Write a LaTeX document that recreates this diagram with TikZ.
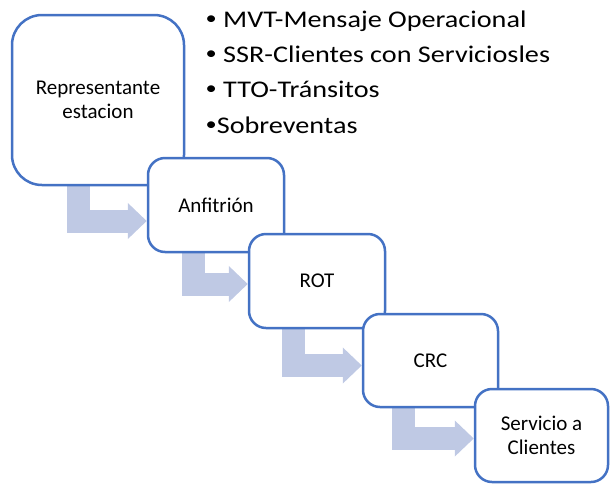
\documentclass[tikz,border=0pt]{standalone}
\usepackage{fontspec}
\setmainfont{Carlito}
\newfontfamily\listfont{Carlito}[FakeStretch = 1.18]
\usetikzlibrary{arrows.meta}
\usetikzlibrary{backgrounds}
\definecolor{boxBlue}{RGB}{68,114,196}
\definecolor{flowBlue}{RGB}{191,201,228}
\newcommand{\listDot}{{\fontsize{19}{19}\selectfont\raisebox{2.5pt}{•}}}

\begin{document}
\begin{tikzpicture}[x = 1pt, y = -1pt]
	\tikzstyle{stepBox} = [shape = rectangle, draw = boxBlue, line width = 2.5pt, fill = white, rounded corners = 17pt, minimum width = 136pt, minimum height = 94pt, inner sep = 2pt, align = center, font = \fontsize{21}{24}\selectfont]
	\tikzstyle{bigBox} = [stepBox, rounded corners = 30pt, minimum width = 172pt, minimum height = 170pt]
	\tikzstyle{itemStyle} = [anchor = base west, inner sep = 0pt, font = \listfont\fontsize{23.9}{30}\selectfont]
	\tikzstyle{flowStyle} = [draw = flowBlue, line width = 23pt, -{Triangle[length = 19pt, width = 35pt]}]
	\useasboundingbox (0, 0) rectangle (610, 485);
	% steps
	\node[bigBox] (repr) at (98, 100) {Representante\\estacion};
	\node[stepBox] (anfi) at (216, 205) {Anfitrión};
	\node[stepBox] (rot) at (317, 281) {ROT};
	\node[stepBox, minimum width = 135pt, minimum height = 93pt] (crc) at (430.5, 360.5) {CRC};
	\node[stepBox, minimum width = 133pt, minimum height = 93pt] (serv) at (541.5, 435.5) {Servicio a\\Clientes};
	% list
	\node[itemStyle] (item1) at (205.5, 27) {\listDot{} MVT-Mensaje Operacional};
	\node[itemStyle] (item2) at (205.5, 62) {\listDot{} SSR-Clientes con Serviciosles};
	\node[itemStyle] (item3) at (205.5, 97) {\listDot{} TTO-Tránsitos};
	\node[itemStyle] (item4) at (205.5, 133) {\listDot{}Sobreventas};
	% flow
	\begin{scope}[on background layer]
		\draw[flowStyle] ([xshift = 68pt]repr.south west) |- ([yshift = -16pt]anfi.west);
		\draw[flowStyle] ([xshift = 47pt]anfi.south west) |- ([yshift = -3pt]rot.west);
		\draw[flowStyle] ([xshift = 45.5pt]rot.south west) |- ([yshift = -5pt]crc.west);
		\draw[flowStyle] ([xshift = 42pt]crc.south west) |- ([yshift = -3pt]serv.west);
	\end{scope}
\end{tikzpicture}
\end{document}
